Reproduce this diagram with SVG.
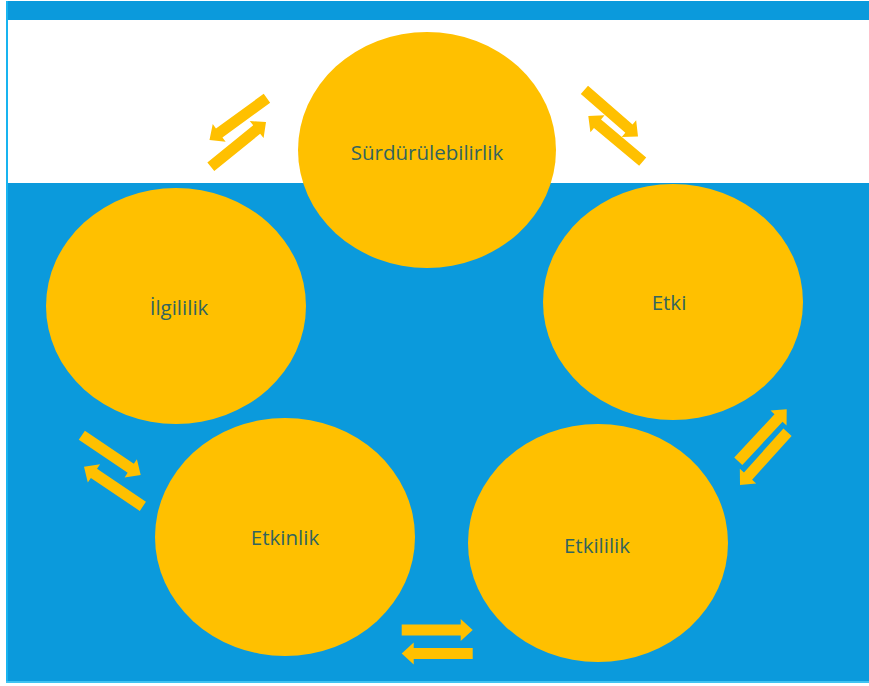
<svg xmlns="http://www.w3.org/2000/svg" width="869" height="686" viewBox="0 0 869 686">
<defs>
<style>
.node{fill:#FFC000}
.lbl{font-family:"Open Sans","Noto Sans",sans-serif;font-size:20.5px;fill:#33645F;text-anchor:middle}
.arr{fill:#FFC000}
</style>
<path id="ar" d="M-71,-5.5 L-12,-5.5 L-12,-11 L0,0 L-12,11 L-12,5.5 L-71,5.5 Z"/>
</defs>
<rect x="0" y="0" width="869" height="686" fill="#ffffff"/>
<rect x="6" y="1" width="863" height="681" fill="#0B9ADC"/>
<rect x="8" y="20" width="861" height="163" fill="#ffffff"/>
<rect x="6" y="1" width="2" height="681" fill="#18B4F0"/>
<rect x="6" y="681" width="863" height="2" fill="#3FC3F2"/>
<g id="connectors" class="arr">
<use href="#ar" transform="translate(209.5,140) rotate(144)"/>
<use href="#ar" transform="translate(266,122) rotate(-39)"/>
<use href="#ar" transform="translate(638,136.5) rotate(41)"/>
<use href="#ar" transform="translate(588.3,116) rotate(220)"/>
<use href="#ar" transform="translate(786.7,409.3) rotate(-47)"/>
<use href="#ar" transform="translate(740,485) rotate(132)"/>
<use href="#ar" transform="translate(140.7,475) rotate(34)"/>
<use href="#ar" transform="translate(84,466.7) rotate(214)"/>
<use href="#ar" transform="translate(472.7,630) rotate(0)"/>
<use href="#ar" transform="translate(401.7,653.5) rotate(180)"/>
</g>
<g id="surdurulebilirlik">
<ellipse class="node" cx="427" cy="150" rx="129" ry="118"/>
<text class="lbl" x="427" y="160">Sürdürülebilirlik</text>
</g>
<g id="ilgililik">
<ellipse class="node" cx="176" cy="306" rx="130" ry="118"/>
<text class="lbl" x="179" y="315">İlgililik</text>
</g>
<g id="etki">
<ellipse class="node" cx="673" cy="302" rx="130" ry="118"/>
<text class="lbl" x="669" y="310">Etki</text>
</g>
<g id="etkinlik">
<ellipse class="node" cx="285" cy="537" rx="130" ry="119"/>
<text class="lbl" x="285" y="545">Etkinlik</text>
</g>
<g id="etkililik">
<ellipse class="node" cx="598" cy="543" rx="130" ry="119"/>
<text class="lbl" x="597" y="553">Etkililik</text>
</g>
</svg>
